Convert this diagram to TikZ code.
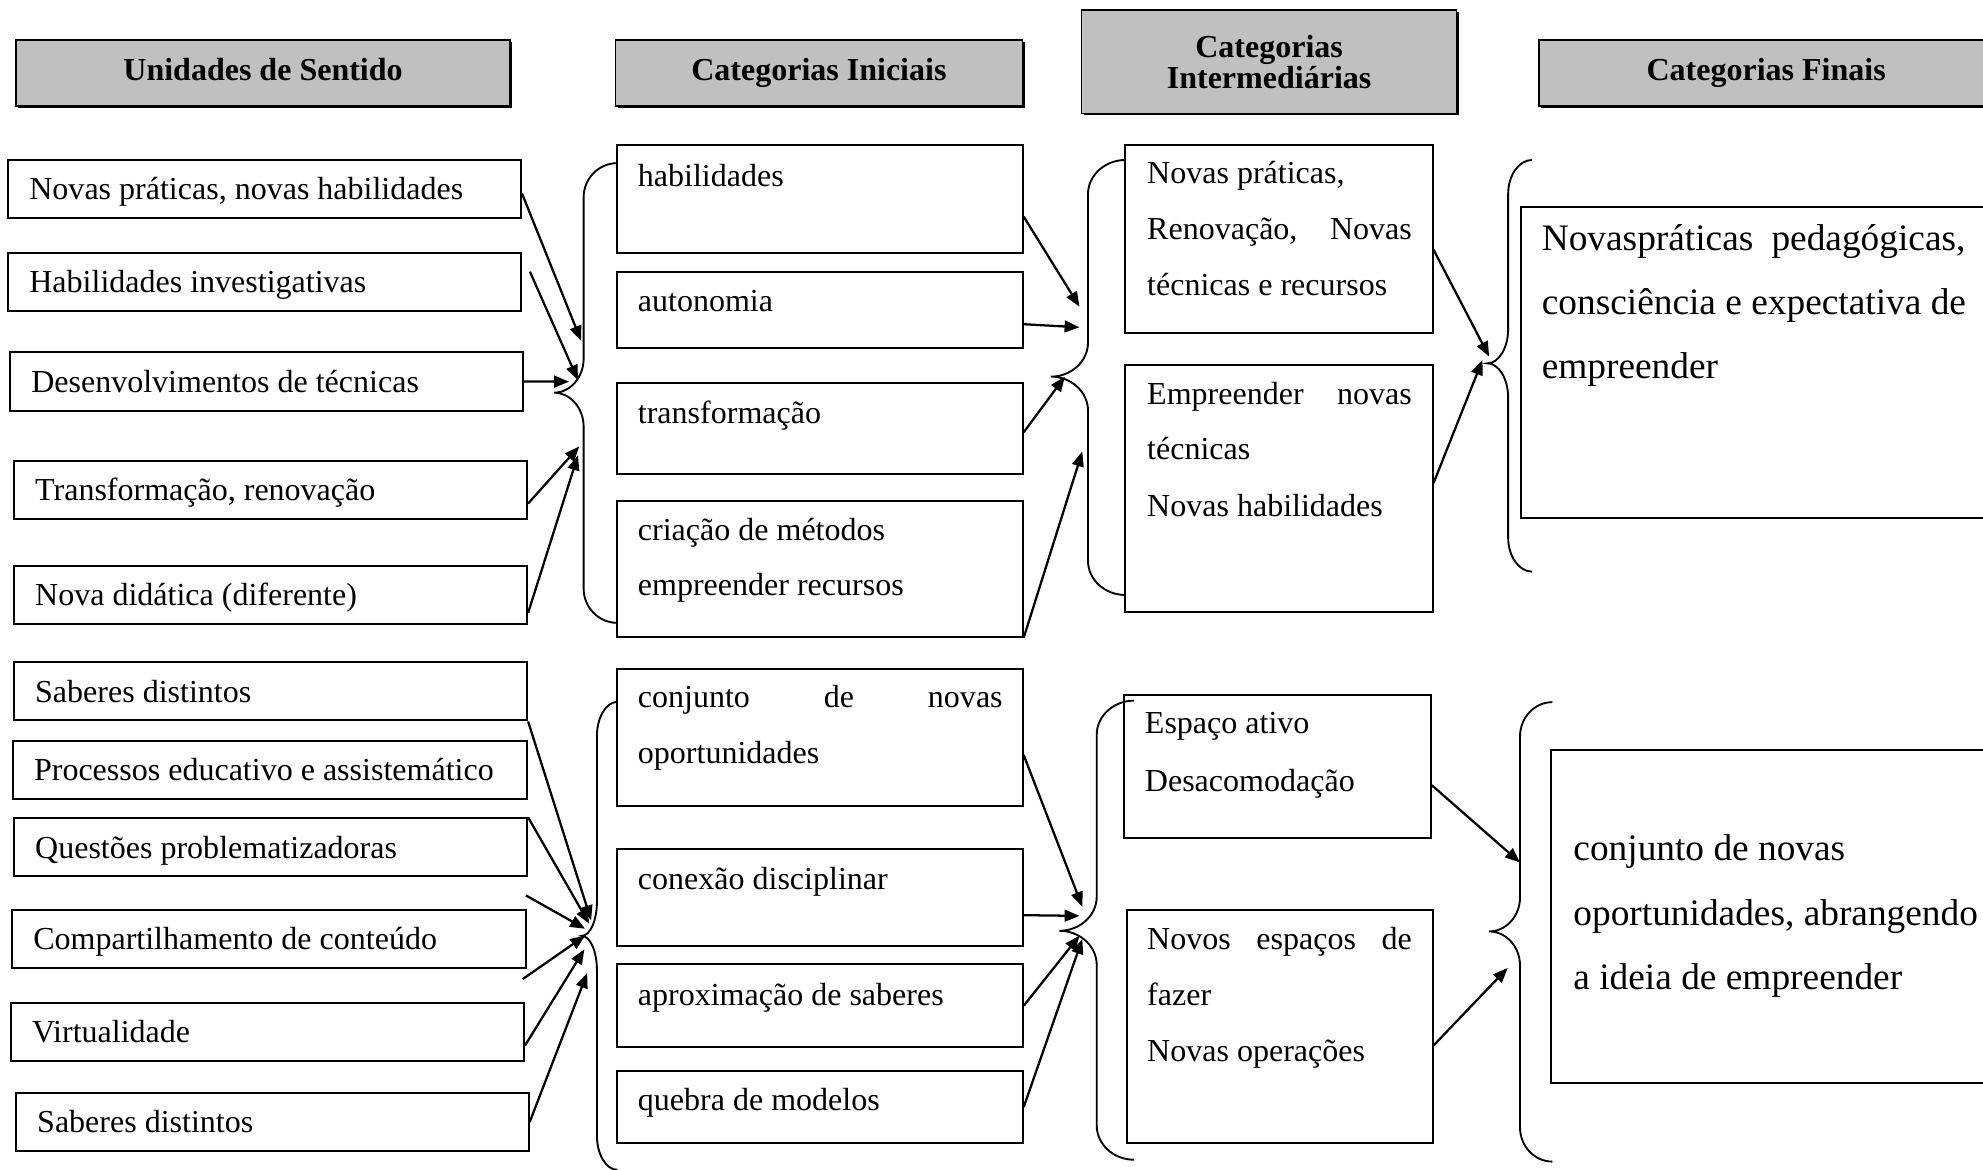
\documentclass[tikz,border=0pt]{standalone}
\usepackage{fontspec}
\setmainfont{Liberation Serif}
\usetikzlibrary{arrows.meta,fit,shadows}
\definecolor{hdrgray}{HTML}{C0C0C0}
\tikzset{
  box/.style={draw=black, line width=0.75pt, inner sep=0pt, fill=white},
  hdr/.style={draw=black, line width=0.6pt, inner sep=0pt, fill=hdrgray,
    drop shadow={shadow xshift=0.8pt, shadow yshift=-0.8pt, opacity=1, fill=black}},
  txt/.style={inner sep=0pt, anchor=base west, font=\fontsize{12}{14}\selectfont},
  bigtxt/.style={inner sep=0pt, anchor=base west, font=\fontsize{14}{16}\selectfont},
  htxt/.style={inner sep=0pt, anchor=base, font=\fontsize{12}{14}\selectfont\bfseries},
  arr/.style={line width=0.85pt, -{Triangle[length=5.6pt,width=4.4pt]}},
  brc/.style={line width=0.7pt}
}
% brace: #1 end x, #2 vertical x, #3 tip x, #4 top y, #5 middle y, #6 bottom y
\newcommand{\mybrace}[6]{%
  \draw[brc] (#1,#4) .. controls ({#2+0.45*(#1-#2)},#4) and (#2,{#4+0.45*27}) .. (#2,{#4+27})
    -- (#2,{#5-27}) .. controls (#2,{#5-0.45*27}) and ({#3+0.55*(#2-#3)},#5) .. (#3,#5)
    .. controls ({#3+0.55*(#2-#3)},#5) and (#2,{#5+0.45*27}) .. (#2,{#5+27})
    -- (#2,{#6-27}) .. controls (#2,{#6-0.45*27}) and ({#2+0.45*(#1-#2)},#6) .. (#1,#6);}
\begin{document}
\begin{tikzpicture}[x=0.474pt, y=-0.474pt]
\useasboundingbox (0,0) rectangle (1568,925);
\begin{scope}
\clip (0,0) rectangle (1568,925);

% ---------- headers ----------
\node[hdr, fit={(12.6,31.6) (403.4,83.8)}] (H1) {};
\node[htxt] (H1t) at (208,63.5) {Unidades de Sentido};
\node[hdr, fit={(486.6,31.6) (808.5,83.8)}] (H2) {};
\node[htxt] (H2t) at (647.5,63.5) {Categorias Iniciais};
\node[hdr, fit={(855.3,7.9) (1151.8,89.6)}] (H3) {};
\node[htxt] (H3a) at (1003.5,45.5) {Categorias};
\node[htxt] (H3b) at (1003.5,70) {Intermediárias};
\node[hdr, fit={(1217,31.6) (1590,83.8)}] (H4) {};
\node[htxt] (H4t) at (1396.5,63.5) {Categorias Finais};

% ---------- left column ----------
\node[box, fit={(6.3,126.5) (412,172.5)}] (L1) {};
\node[txt] (L1t) at (22.8,158) {Novas práticas, novas habilidades};
\node[box, fit={(6.3,199.8) (412,245.6)}] (L2) {};
\node[txt] (L2t) at (22.8,231.2) {Habilidades investigativas};
\node[box, fit={(7.8,278.6) (413.6,324.7)}] (L3) {};
\node[txt] (L3t) at (24.3,310.2) {Desenvolvimentos de técnicas};
\node[box, fit={(10.9,364.5) (416.8,410.4)}] (L4) {};
\node[txt] (L4t) at (27.4,396) {Transformação, renovação};
\node[box, fit={(10.9,447.3) (416.8,493.4)}] (L5) {};
\node[txt] (L5t) at (27.4,478.9) {Nova didática (diferente)};

\node[box, fit={(10.9,523.5) (416.8,569.7)}] (L6) {};
\node[txt] (L6t) at (27.4,555.1) {Saberes distintos};
\node[box, fit={(10,586.2) (416.5,631.8)}] (L7) {};
\node[txt] (L7t) at (26.5,617.5) {Processos educativo e assistemático};
\node[box, fit={(10.9,647.1) (416.8,692.8)}] (L8) {};
\node[txt] (L8t) at (27.4,678.5) {Questões problematizadoras};
\node[box, fit={(9.4,719.6) (415.8,765.3)}] (L9) {};
\node[txt] (L9t) at (25.9,751) {Compartilhamento de conteúdo};
\node[box, fit={(8.4,793) (414.3,839.2)}] (L10) {};
\node[txt] (L10t) at (24.9,824.6) {Virtualidade};
\node[box, fit={(12.5,864.2) (418,910.4)}] (L11) {};
\node[txt] (L11t) at (29,895.8) {Saberes distintos};

% ---------- initial categories ----------
\node[box, fit={(488.2,114.7) (808.7,199.8)}] (M1) {};
\node[txt] (M1t) at (504,147.6) {habilidades};
\node[box, fit={(488.2,214.8) (808.7,275.4)}] (M2) {};
\node[txt] (M2t) at (504,246.4) {autonomia};
\node[box, fit={(488.2,303) (808.7,375)}] (M3) {};
\node[txt] (M3t) at (504,334.7) {transformação};
\node[box, fit={(488.2,396) (808.7,503.4)}] (M4) {};
\node[txt] (M4a) at (504,427) {criação de métodos};
\node[txt] (M4b) at (504,470.5) {empreender recursos};

\node[box, fit={(488.2,528.9) (808.7,637.1)}] (M5) {};
\node[txt] (M5a) at (504,559.8) {\makebox[136.7pt][s]{conjunto de novas}};
\node[txt] (M5b) at (504,604.1) {oportunidades};
\node[box, fit={(488.2,671.3) (808.7,747.8)}] (M6) {};
\node[txt] (M6t) at (504,703.5) {conexão disciplinar};
\node[box, fit={(488.2,762.6) (808.7,827.9)}] (M7) {};
\node[txt] (M7t) at (504,794.9) {aproximação de saberes};
\node[box, fit={(488.2,846.8) (808.7,903.7)}] (M8) {};
\node[txt] (M8t) at (504,878.2) {quebra de modelos};

% ---------- intermediate categories ----------
\node[box, fit={(889.9,114.7) (1132.7,263)}] (I1) {};
\node[txt] (I1a) at (906.7,145) {Novas práticas,};
\node[txt] (I1b) at (906.7,189.3) {\makebox[99.2pt][s]{Renovação, Novas}};
\node[txt] (I1c) at (906.7,233.3) {técnicas e recursos};
\node[box, fit={(889.9,289) (1132.7,483.6)}] (I2) {};
\node[txt] (I2a) at (906.7,320.2) {\makebox[99.2pt][s]{Empreender novas}};
\node[txt] (I2b) at (906.7,363.7) {técnicas};
\node[txt] (I2c) at (906.7,408.5) {Novas habilidades};

\node[box, fit={(889,549.5) (1131.4,662.4)}] (I3) {};
\node[txt] (I3a) at (904.9,579.9) {Espaço ativo};
\node[txt] (I3b) at (904.9,625.6) {Desacomodação};
\node[box, fit={(890.8,719.6) (1132.8,903.7)}] (I4) {};
\node[txt] (I4a) at (906.7,750.5) {\makebox[99.2pt][s]{Novos espaços de}};
\node[txt] (I4b) at (906.7,794.9) {fazer};
\node[txt] (I4c) at (906.7,839.2) {Novas operações};

% ---------- final categories ----------
\node[box, fit={(1202.5,163.4) (1590,409.8)}] (F1) {};
\node[bigtxt] (F1a) at (1218.7,197.7) {\makebox[158.8pt][s]{Novaspráticas pedagógicas,}};
\node[bigtxt] (F1b) at (1218.7,248.5) {consciência e expectativa de};
\node[bigtxt] (F1c) at (1218.7,299.3) {empreender};
\node[box, fit={(1226,593.3) (1590,856.7)}] (F2) {};
\node[bigtxt] (F2a) at (1243.7,680.7) {conjunto de novas};
\node[bigtxt] (F2b) at (1243.7,731.7) {oportunidades, abrangendo};
\node[bigtxt] (F2c) at (1243.7,782.8) {a ideia de empreender};

% ---------- braces ----------
\mybrace{488}{461.5}{438}{129}{310.5}{492.5}
\mybrace{890}{860.3}{831}{126.5}{297.8}{470.5}
\mybrace{1211.4}{1192.5}{1176}{126.5}{287.3}{452}
\mybrace{488.2}{472}{460}{555}{740}{925}
\mybrace{896.7}{867.2}{837.7}{554}{736}{917}
\mybrace{1227.5}{1201.9}{1177.5}{555.2}{736.5}{918.5}

% ---------- arrow end points ----------
\coordinate (e1) at (459.5,269.5);
\coordinate (s2) at (419,214.8);
\coordinate (e2) at (457,300.5);
\coordinate (e3) at (450,301.8);
\coordinate (e4) at (458,353);
\coordinate (e5) at (457,360);
\coordinate (e6) at (853.6,242.5);
\coordinate (e7) at (853.6,258.8);
\coordinate (e8) at (842,297.8);
\coordinate (e9) at (855.8,357);
\coordinate (e10) at (1177.5,282);
\coordinate (e11) at (1172.2,284.7);
\coordinate (e12) at (467.4,727.7);
\coordinate (e13) at (465.9,730.4);
\coordinate (s14) at (415.8,708);
\coordinate (e14) at (462.7,734.4);
\coordinate (s15) at (413.3,774.2);
\coordinate (e15) at (462.7,739.8);
\coordinate (e16) at (462.1,750.6);
\coordinate (e17) at (464.3,769.4);
\coordinate (e18) at (855.8,717);
\coordinate (e19) at (853.6,724.2);
\coordinate (e20) at (853.6,739.8);
\coordinate (e21) at (855.8,742.5);
\coordinate (e22) at (1201.9,682);
\coordinate (e23) at (1192.2,765.3);

% ---------- arrows ----------
\draw[arr] (L1.-1) -- (e1);
\draw[arr] (s2) -- (e2);
\draw[arr] (L3.east) -- (e3);
\draw[arr] (L4.-3.2) -- (e4);
\draw[arr] (L5.-4.1) -- (e5);
\draw[arr] (M1.-5) -- (e6);
\draw[arr] (M2.-4.9) -- (e7);
\draw[arr] (M3.-1.3) -- (e8);
\draw[arr] (M4.south east) -- (e9);
\draw[arr] (I1.-4.8) -- (e10);
\draw[arr] (I2.2) -- (e11);
\draw[arr] (L6.south east) -- (e12);
\draw[arr] (L8.north east) -- (e13);
\draw[arr] (s14) -- (e14);
\draw[arr] (s15) -- (e15);
\draw[arr] (L10.-3.5) -- (e16);
\draw[arr] (L11.east) -- (e17);
\draw[arr] (M5.-5.6) -- (e18);
\draw[arr] (M6.-5.2) -- (e19);
\draw[arr] (M7.east) -- (e20);
\draw[arr] (M8.east) -- (e21);
\draw[arr] (I3.-7.3) -- (e22);
\draw[arr] (I4.-7.3) -- (e23);
\end{scope}
\end{tikzpicture}
\end{document}
